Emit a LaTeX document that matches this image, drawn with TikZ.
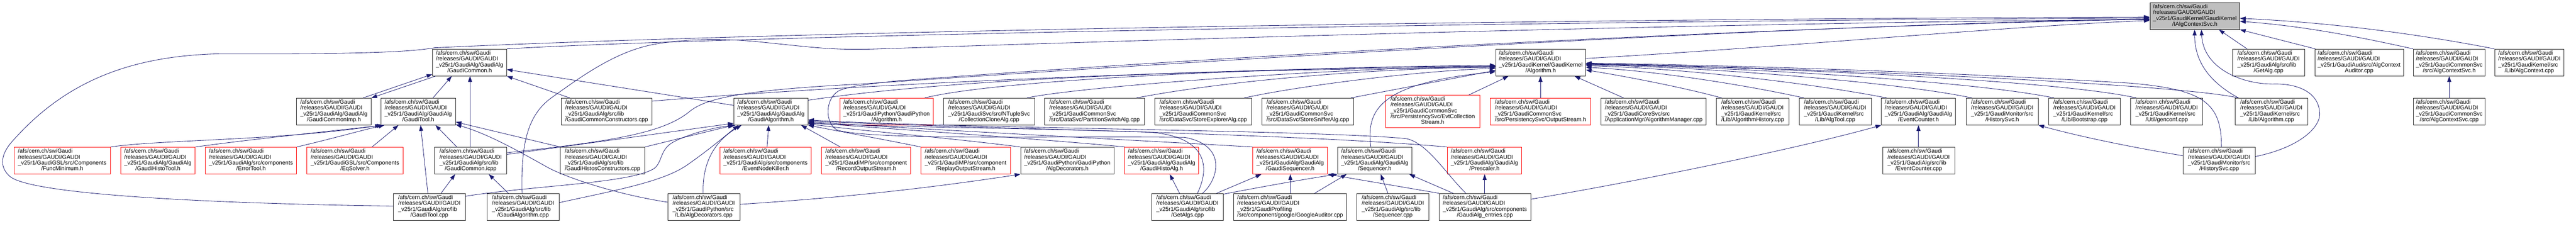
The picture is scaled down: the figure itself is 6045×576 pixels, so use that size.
\documentclass[tikz,border=0pt]{standalone}
\usepackage{fontspec}
\setmainfont{Liberation Sans}
\usetikzlibrary{arrows.meta,calc}
\definecolor{edgec}{HTML}{191970}
\definecolor{rootfill}{HTML}{BFBFBF}
\newcommand{\glab}[2]{\begin{tabular}{@{}l@{}}/afs/cern.ch/sw/Gaudi\\/releases/GAUDI/GAUDI\\#1\\\multicolumn{1}{@{}c@{}}{#2}\end{tabular}}
\newcommand{\glabv}[3]{\begin{tabular}{@{}l@{}}/afs/cern.ch/sw/Gaudi\\/releases/GAUDI/GAUDI\\#1\\#2\\\multicolumn{1}{@{}c@{}}{#3}\end{tabular}}
\newcommand{\gn}[6]{\node[#1, minimum width={((#4)-(#3))*0.75pt}] (#2) at ({((#3)+(#4))/2},#5) {#6};}
\tikzset{
  gbox/.style={draw=black!85, line width=0.75pt, inner sep=0pt, minimum height=47.25pt, font=\fontsize{10}{10}\selectfont},
  rbox/.style={gbox, draw=red},
  rootbox/.style={gbox, fill=rootfill, draw=black},
  inc/.style={draw=edgec, line width=0.75pt, -{Triangle[length=10pt,width=7pt]}}
}
\begin{document}
\begin{tikzpicture}[x=0.75pt,y=-0.75pt]
\fill[white] (0,0) rectangle (6045,576);
\useasboundingbox (0,0) rectangle (6045,576);
% row 0
\gn{rootbox}{R}{5045}{5256}{37.5}{\glab{\_v25r1/GaudiKernel/GaudiKernel}{/IAlgContextSvc.h}}
% row 1
\gn{gbox}{GC}{1015}{1189}{146.5}{\glab{\_v25r1/GaudiAlg/GaudiAlg}{/GaudiCommon.h}}
\gn{gbox}{AH}{3510}{3721}{146.5}{\glab{\_v25r1/GaudiKernel/GaudiKernel}{/Algorithm.h}}
\gn{gbox}{GA}{5239}{5408}{146.5}{\glab{\_v25r1/GaudiAlg/src/lib}{/GetAlg.cpp}}
\gn{gbox}{ACA}{5432}{5640}{146.5}{\glab{\_v25r1/GaudiAud/src/AlgContext}{Auditor.cpp}}
\gn{gbox}{ACSh}{5663}{5832}{146.5}{\glab{\_v25r1/GaudiCommonSvc}{/src/AlgContextSvc.h}}
\gn{gbox}{AC}{5854}{6017}{146.5}{\glab{\_v25r1/GaudiKernel/src}{/Lib/AlgContext.cpp}}
% row 2
\gn{gbox}{GCI}{696}{871}{261.5}{\glab{\_v25r1/GaudiAlg/GaudiAlg}{/GaudiCommonImp.h}}
\gn{gbox}{GTh}{894}{1069}{261.5}{\glab{\_v25r1/GaudiAlg/GaudiAlg}{/GaudiTool.h}}
\gn{gbox}{GCC}{1317}{1530}{261.5}{\glab{\_v25r1/GaudiAlg/src/lib}{/GaudiCommonConstructors.cpp}}
\gn{gbox}{GAh}{1722}{1896}{261.5}{\glab{\_v25r1/GaudiAlg/GaudiAlg}{/GaudiAlgorithm.h}}
\gn{rbox}{PyAlg}{1971}{2190}{261.5}{\glab{\_v25r1/GaudiPython/GaudiPython}{/Algorithm.h}}
\gn{gbox}{CCA}{2214}{2428}{261.5}{\glab{\_v25r1/GaudiSvc/src/NTupleSvc}{/CollectionCloneAlg.cpp}}
\gn{gbox}{PSA}{2451}{2686}{261.5}{\glab{\_v25r1/GaudiCommonSvc}{/src/DataSvc/PartitionSwitchAlg.cpp}}
\gn{gbox}{SEA}{2710}{2937}{261.5}{\glab{\_v25r1/GaudiCommonSvc}{/src/DataSvc/StoreExplorerAlg.cpp}}
\gn{gbox}{SSA}{2961}{3177}{261.5}{\glab{\_v25r1/GaudiCommonSvc}{/src/DataSvc/StoreSnifferAlg.cpp}}
\node[rbox, minimum width={(3473-3251)*0.75pt}, minimum height=57pt] (ECS) at ({(3251+3473)/2},261) {\glabv{\_v25r1/GaudiCommonSvc}{/src/PersistencySvc/EvtCollection}{Stream.h}};
\gn{rbox}{OS}{3497}{3733}{261.5}{\glab{\_v25r1/GaudiCommonSvc}{/src/PersistencySvc/OutputStream.h}}
\gn{gbox}{AM}{3757}{4004}{261.5}{\glab{\_v25r1/GaudiCoreSvc/src}{/ApplicationMgr/AlgorithmManager.cpp}}
\gn{gbox}{AHist}{4028}{4198}{261.5}{\glab{\_v25r1/GaudiKernel/src}{/Lib/AlgorithmHistory.cpp}}
\gn{gbox}{AT}{4222}{4391}{261.5}{\glab{\_v25r1/GaudiKernel/src}{/Lib/AlgTool.cpp}}
\gn{gbox}{ECh}{4415}{4589}{261.5}{\glab{\_v25r1/GaudiAlg/GaudiAlg}{/EventCounter.h}}
\gn{gbox}{HSh}{4614}{4783}{261.5}{\glab{\_v25r1/GaudiMonitor/src}{/HistorySvc.h}}
\gn{gbox}{BS}{4807}{4976}{261.5}{\glab{\_v25r1/GaudiKernel/src}{/Lib/Bootstrap.cpp}}
\gn{gbox}{GCF}{5000}{5169}{261.5}{\glab{\_v25r1/GaudiKernel/src}{/Util/genconf.cpp}}
\gn{gbox}{ACpp}{5245}{5415}{261.5}{\glab{\_v25r1/GaudiKernel/src}{/Lib/Algorithm.cpp}}
\gn{gbox}{ACSc}{5663}{5832}{261.5}{\glab{\_v25r1/GaudiCommonSvc}{/src/AlgContextSvc.cpp}}
% row 3
\gn{rbox}{FM}{33}{259}{376.5}{\glab{\_v25r1/GaudiGSL/src/Components}{/FuncMinimum.h}}
\gn{rbox}{GHT}{283}{458}{376.5}{\glab{\_v25r1/GaudiAlg/GaudiAlg}{/GaudiHistoTool.h}}
\gn{rbox}{ET}{482}{696}{376.5}{\glab{\_v25r1/GaudiAlg/src/components}{/ErrorTool.h}}
\gn{rbox}{EQ}{720}{946}{376.5}{\glab{\_v25r1/GaudiGSL/src/Components}{/EqSolver.h}}
\gn{gbox}{GCicpp}{1020}{1189}{376.5}{\glab{\_v25r1/GaudiAlg/src/lib}{/GaudiCommon.icpp}}
\gn{gbox}{GHC}{1315}{1513}{376.5}{\glab{\_v25r1/GaudiAlg/src/lib}{/GaudiHistosConstructors.cpp}}
\gn{rbox}{ENK}{1689}{1904}{376.5}{\glab{\_v25r1/GaudiAlg/src/components}{/EventNodeKiller.h}}
\gn{rbox}{ROS}{1928}{2137}{376.5}{\glab{\_v25r1/GaudiMP/src/component}{/RecordOutputStream.h}}
\gn{rbox}{RpOS}{2161}{2371}{376.5}{\glab{\_v25r1/GaudiMP/src/component}{/ReplayOutputStream.h}}
\gn{gbox}{ADh}{2395}{2614}{376.5}{\glab{\_v25r1/GaudiPython/GaudiPython}{/AlgDecorators.h}}
\gn{rbox}{GHA}{2639}{2813}{376.5}{\glab{\_v25r1/GaudiAlg/GaudiAlg}{/GaudiHistoAlg.h}}
\gn{rbox}{GSeq}{2940}{3115}{376.5}{\glab{\_v25r1/GaudiAlg/GaudiAlg}{/GaudiSequencer.h}}
\gn{gbox}{Seqh}{3139}{3313}{376.5}{\glab{\_v25r1/GaudiAlg/GaudiAlg}{/Sequencer.h}}
\gn{rbox}{Pre}{3396}{3571}{376.5}{\glab{\_v25r1/GaudiAlg/GaudiAlg}{/Prescaler.h}}
\gn{gbox}{ECc}{4418}{4587}{376.5}{\glab{\_v25r1/GaudiAlg/src/lib}{/EventCounter.cpp}}
\gn{gbox}{HSc}{5123}{5292}{376.5}{\glab{\_v25r1/GaudiMonitor/src}{/HistorySvc.cpp}}
% row 4
\gn{gbox}{GTc}{923}{1092}{485}{\glab{\_v25r1/GaudiAlg/src/lib}{/GaudiTool.cpp}}
\gn{gbox}{GAc}{1143}{1312}{485}{\glab{\_v25r1/GaudiAlg/src/lib}{/GaudiAlgorithm.cpp}}
\gn{gbox}{ADc}{1567}{1736}{485}{\glab{\_v25r1/GaudiPython/src}{/Lib/AlgDecorators.cpp}}
\gn{gbox}{GAs}{2702}{2871}{485}{\glab{\_v25r1/GaudiAlg/src/lib}{/GetAlgs.cpp}}
\gn{gbox}{GoA}{2895}{3160}{485}{\glab{\_v25r1/GaudiProfiling}{/src/component/google/GoogleAuditor.cpp}}
\gn{gbox}{SeqC}{3184}{3353}{485}{\glab{\_v25r1/GaudiAlg/src/lib}{/Sequencer.cpp}}
\gn{gbox}{GAE}{3377}{3592}{485}{\glab{\_v25r1/GaudiAlg/src/components}{/GaudiAlg\_entries.cpp}}

% ---- edges into root
\draw[inc] (GTc.west |- 0,483) .. controls (600,479) and (90,462) .. (25,415) .. controls (0,395) and (-2,365) .. (30,330) .. controls (150,195) and (300,130) .. (520,126) .. controls (850,127) and (960,122) .. (1020,112) .. controls (1800,75) and (3500,45) .. (R.west |- 0,40);
\draw[inc] (GC.north east) .. controls (1700,85) and (3500,50) .. (R.west |- 0,42);
\draw[inc] (GCicpp.east |- 0,358) .. controls (1450,330) and (1560,310) .. (1620,260) .. controls (1660,228) and (1760,210) .. (2020,197) .. controls (3000,130) and (4200,60) .. (R.west |- 0,44);
\draw[inc] (GAc.north -| 1225,0) .. controls (1222,330) and (1240,265) .. (1300,225) .. controls (1370,175) and (1450,118) .. (1540,103) .. controls (1600,93) and (1680,88) .. (1780,98) .. controls (1900,110) and (1950,118) .. (2050,115) .. controls (2500,100) and (4000,52) .. (R.west |- 0,46);
\draw[inc] (GAs.north -| 2822,0) .. controls (2860,420) and (2880,340) .. (2780,322) .. controls (2500,318) and (2050,330) .. (1965,305) .. controls (1935,290) and (1935,230) .. (1970,212) .. controls (2000,200) and (2050,196) .. (2100,190) .. controls (3000,122) and (4200,62) .. (R.west |- 0,45);
\draw[inc] (AH.east |- 0,137) .. controls (4200,110) and (4700,62) .. (R.west |- 0,48);
\draw[inc] (GA.north -| 5273,0) -- (R.south -| 5207,0);
\draw[inc] (ACA.north -| 5433,0) -- (R.south east);
\draw[inc] (ACSh.north west) .. controls (5560,92) and (5420,62) .. (R.east |- 0,50);
\draw[inc] (AC.north west) .. controls (5650,75) and (5450,52) .. (R.east |- 0,43);
\draw[inc] (ACpp.north -| 5253,0) .. controls (5180,190) and (5150,140) .. (R.south -| 5150,0);
\draw[inc] (HSc.east |- 0,367) .. controls (5400,345) and (5450,295) .. (5443,260) .. controls (5438,215) and (5390,195) .. (5333,197) .. controls (5260,197) and (5170,160) .. (R.south -| 5166,0);
% ---- edges into Algorithm.h
\draw[inc] (GAh.east |- 0,235) .. controls (2300,175) and (3000,162) .. (AH.west |- 0,158);
\draw[inc] (GCC.east |- 0,237) .. controls (2100,190) and (3000,158) .. (AH.west |- 0,155);
\draw[inc] (PyAlg.north -| 2170,0) .. controls (2350,185) and (3000,158) .. (AH.west |- 0,153);
\draw[inc] (CCA.north -| 2410,0) .. controls (2520,205) and (3100,160) .. (AH.west |- 0,155);
\draw[inc] (PSA.north -| 2667,0) .. controls (2900,185) and (3250,160) .. (AH.west |- 0,157);
\draw[inc] (SEA.north -| 2920,0) .. controls (3030,205) and (3300,168) .. (AH.west |- 0,160);
\draw[inc] (SSA.north -| 3170,0) -- (AH.west |- 0,165);
\draw[inc] (Seqh.north -| 3217,0) .. controls (3205,255) and (3240,195) .. (AH.west |- 0,168);
\draw[inc] (ECS.north -| 3447,0) -- (AH.south -| 3540,0);
\draw[inc] (OS.north -| 3615,0) -- (AH.south -| 3615,0);
\draw[inc] (AM.north -| 3810,0) -- (AH.south -| 3695,0);
\draw[inc] (AHist.north -| 4040,0) .. controls (3950,205) and (3820,180) .. (AH.east |- 0,164);
\draw[inc] (AT.north -| 4233,0) .. controls (4100,200) and (3880,165) .. (AH.east |- 0,158);
\draw[inc] (ECh.north -| 4427,0) .. controls (4250,195) and (3950,160) .. (AH.east |- 0,154);
\draw[inc] (HSh.north -| 4627,0) .. controls (4450,192) and (4000,157) .. (AH.east |- 0,152);
\draw[inc] (BS.north -| 4820,0) .. controls (4600,185) and (4000,155) .. (AH.east |- 0,151);
\draw[inc] (GCF.north -| 5013,0) .. controls (4800,182) and (4000,154) .. (AH.east |- 0,150);
\draw[inc] (ACpp.north -| 5253,0) .. controls (5100,195) and (4200,158) .. (AH.east |- 0,149);
\draw[inc] (HSc.north -| 5213,0) .. controls (5213,240) and (5170,210) .. (5000,195) .. controls (4500,165) and (4000,152) .. (AH.east |- 0,148);
% ---- GaudiAlgorithm.h
\draw[inc] (GAh.west |- 0,247) -- (GC.east |- 0,163);
\draw[inc] (ENK.north -| 1800,0) -- (GAh.south -| 1804,0);
\draw[inc] (ROS.north -| 1972,0) -- (GAh.south -| 1880,0);
\draw[inc] (RpOS.north west) .. controls (2080,328) and (1980,310) .. (GAh.south east);
\draw[inc] (ADh.north west) .. controls (2200,320) and (2000,305) .. (GAh.east |- 0,290);
\draw[inc] (GHA.north -| 2640,0) .. controls (2400,322) and (2050,300) .. (GAh.east |- 0,287);
\draw[inc] (GSeq.north west) .. controls (2600,325) and (2100,300) .. (GAh.east |- 0,285);
\draw[inc] (Pre.north west) .. controls (3000,310) and (2200,300) .. (GAh.east |- 0,283);
\draw[inc] (GAE.north -| 3440,0) .. controls (3395,410) and (3350,335) .. (3300,325) .. controls (3100,305) and (2200,300) .. (GAh.east |- 0,281);
\draw[inc] (GAs.north -| 2810,0) .. controls (2845,380) and (2820,320) .. (2700,310) .. controls (2400,300) and (2100,298) .. (GAh.east |- 0,289);
\draw[inc] (GTc.east |- 0,460) .. controls (1250,435) and (1480,430) .. (1535,395) .. controls (1555,380) and (1548,350) .. (1580,333) .. controls (1620,312) and (1680,298) .. (GAh.south -| 1726,0);
\draw[inc] (GAc.east |- 0,475) .. controls (1450,445) and (1560,425) .. (1615,385) .. controls (1665,350) and (1700,320) .. (GAh.south -| 1733,0);
\draw[inc] (ADc.north -| 1650,0) .. controls (1648,390) and (1670,335) .. (GAh.south -| 1740,0);
\draw[inc] (GHC.north east) -- (GAh.south west);
\draw[inc] (GCicpp.east |- 0,362) -- (GAh.west |- 0,289);
% ---- GaudiCommon.h / GaudiTool.h
\draw[inc] (GTh.north -| 1016,0) -- (GC.south -| 1060,0);
\draw[inc] (GCI.north -| 852,0) -- (GC.west |- 0,174);
\draw[inc] (GC.south -| 1022,0) -- (GCI.north east);
\draw[inc] (GCicpp.north -| 1103,0) -- (GC.south -| 1103,0);
\draw[inc] (GCC.north -| 1337,0) -- (GC.south east);
\draw[inc] (FM.north east) .. controls (380,327) and (650,330) .. (GTh.south west);
\draw[inc] (GHT.north east) .. controls (600,325) and (800,305) .. (GTh.south -| 898,0);
\draw[inc] (ET.north east) .. controls (780,325) and (850,305) .. (GTh.south -| 902,0);
\draw[inc] (EQ.north -| 873,0) -- (GTh.south -| 935,0);
\draw[inc] (GTc.north -| 1004,0) -- (GTh.south -| 987,0);
\draw[inc] (GCicpp.north -| 1072,0) -- (GTh.south -| 1022,0);
\draw[inc] (GHC.north west) -- (GTh.east |- 0,286);
\draw[inc] (ADc.west |- 0,474) .. controls (1450,456) and (1340,420) .. (1290,395) .. controls (1230,362) and (1150,315) .. (GTh.east |- 0,292);
\draw[inc] (GTc.north -| 1035,0) -- (GCicpp.south -| 1068,0);
\draw[inc] (GAc.north -| 1193,0) -- (GCicpp.south -| 1147,0);
\draw[inc] (ADc.east |- 0,479) .. controls (2000,462) and (2200,438) .. (ADh.south west);
% ---- sequencers etc
\draw[inc] (GAs.north -| 2768,0) -- (GHA.south -| 2745,0);
\draw[inc] (GAs.north -| 2855,0) -- (GSeq.south -| 2960,0);
\draw[inc] (GAs.east |- 0,455) .. controls (2950,440) and (3060,420) .. (Seqh.south west);
\draw[inc] (GoA.north -| 3028,0) -- (GSeq.south -| 3028,0);
\draw[inc] (GoA.north -| 3085,0) -- (Seqh.south -| 3160,0);
\draw[inc] (SeqC.north -| 3257,0) -- (Seqh.south -| 3240,0);
\draw[inc] (GAE.north west) -- (GSeq.south east);
\draw[inc] (GAE.north -| 3410,0) -- (Seqh.south -| 3307,0);
\draw[inc] (GAE.north -| 3484,0) -- (Pre.south -| 3484,0);
\draw[inc] (GAE.east |- 0,467) .. controls (3900,415) and (4250,340) .. (ECh.south west);
\draw[inc] (ECc.north -| 4502,0) -- (ECh.south -| 4502,0);
\draw[inc] (HSc.west |- 0,365) .. controls (5000,345) and (4880,320) .. (HSh.south east);
\draw[inc] (ACSc.north) -- (ACSh.south);
\end{tikzpicture}
\end{document}
